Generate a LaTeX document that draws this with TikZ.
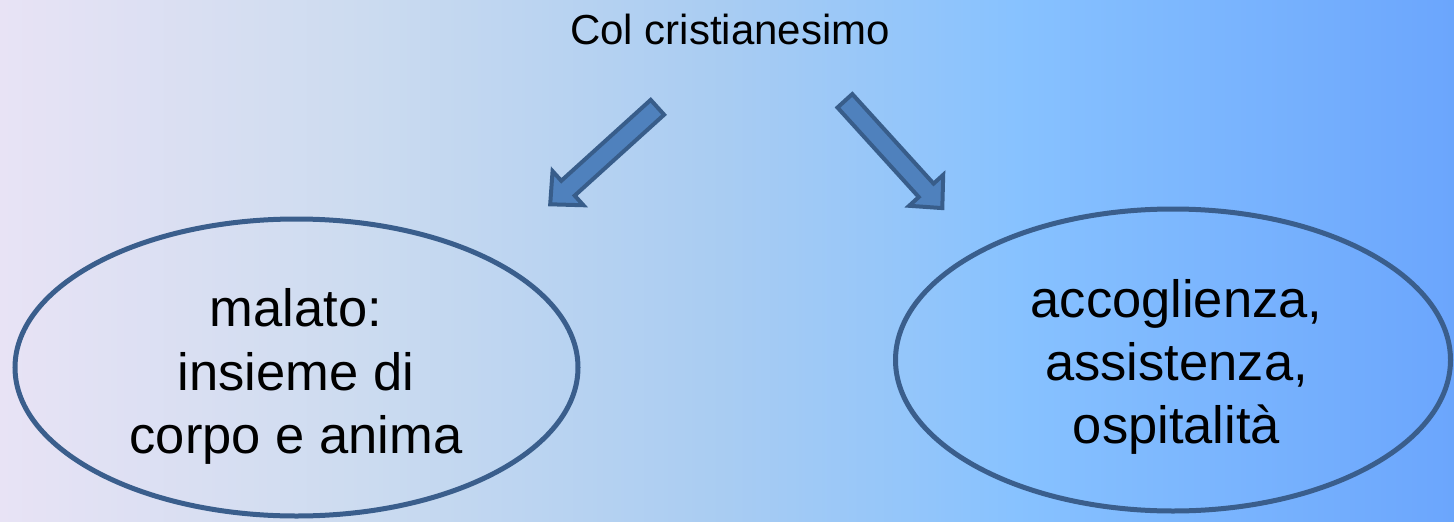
\documentclass[tikz,border=0pt]{standalone}
\usepackage{fontspec}
\setmainfont{Liberation Sans}
\usetikzlibrary{calc,shapes.geometric}

\definecolor{arrowfill}{HTML}{4F81BD}
\definecolor{arrowline}{HTML}{385D8A}
\definecolor{ovalline}{HTML}{3A5E8C}
\pgfdeclarehorizontalshading{bgshade}{100bp}{rgb(0bp)=(0.91,0.89,0.96); rgb(25bp)=(0.91,0.89,0.96); rgb(37.5bp)=(0.80,0.86,0.94); rgb(50bp)=(0.66,0.80,0.95); rgb(60bp)=(0.53,0.76,1.0); rgb(75bp)=(0.42,0.65,0.99); rgb(100bp)=(0.42,0.65,0.99)}

% block arrow from tail to tip
\newcommand{\blockarrow}[2]{%
  \coordinate (neck) at ($(#2)!24pt!(#1)$);
  \filldraw[arrowbody] ($(#1)!10pt!90:(#2)$) -- ($(neck)!10pt!90:(#2)$) -- ($(neck)!23pt!90:(#2)$) -- (#2) -- ($(neck)!23pt!-90:(#2)$) -- ($(neck)!10pt!-90:(#2)$) -- ($(#1)!10pt!-90:(#2)$) -- cycle;}

\begin{document}
\begin{tikzpicture}[x=1pt,y=-1pt,
	title/.style={font=\fontsize{42}{50}\selectfont, inner sep=0pt},
	oval/.style={ellipse, draw=ovalline, line width=5pt, inner sep=0pt},
	ovaltext/.style={font=\fontsize{52.5}{63.3}\selectfont, align=center, inner sep=0pt},
	arrowbody/.style={fill=arrowfill, draw=arrowline, line width=4pt, line join=miter}]
		\useasboundingbox (0,0) rectangle (1454,522);
		\shade[shading=bgshade] (0,0) rectangle (1454,522);
		\node[title, anchor=base] (topic) at (730,44) {Col cristianesimo};
		% arrows
		\coordinate (lefttail) at (657.4,107.3);
		\coordinate (lefttip) at (550.2,204.3);
		\coordinate (righttail) at (844.9,100.8);
		\coordinate (righttip) at (942.3,208.1);
		\blockarrow{lefttail}{lefttip}
		\blockarrow{righttail}{righttip}
		% ovals
		\node[oval, minimum width=563pt, minimum height=297pt] (sick) at (296.5,367.5) {};
		\node[ovaltext] (sicktext) at (296,376.5) {malato:\\insieme di\\corpo e anima};
		\node[oval, minimum width=555pt, minimum height=302pt] (care) at (1173,360) {};
		\node[ovaltext] (caretext) at (1176.5,367) {accoglienza,\\assistenza,\\ospitalità};
\end{tikzpicture}
\end{document}
